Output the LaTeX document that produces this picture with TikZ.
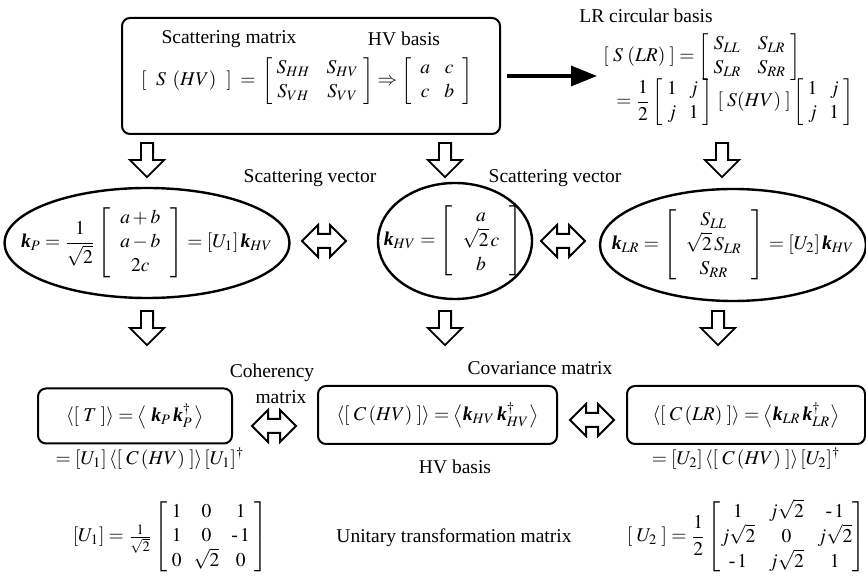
\documentclass[tikz,border=0pt]{standalone}
\usepackage{amsmath}
\usepackage{mathptmx}
\usepackage{fontspec}
\setmainfont{Liberation Serif}
\usetikzlibrary{shapes.geometric,shapes.arrows,arrows.meta}

% bold italic scattering vector symbol
\newcommand{\kv}{\mbox{\bfseries\itshape k}}
% bracketed matrix with some room inside the brackets
\newcommand{\bmx}[1]{\left[\;\begin{matrix}#1\end{matrix}\;\right]}
% wider variant used for the column vectors
\newcommand{\cvec}[1]{\left[\enspace\begin{matrix}#1\end{matrix}\enspace\right]}

\tikzset{
  rbox/.style={draw, line width=1pt, rounded corners=4pt, inner sep=0pt},
  oval/.style={draw, ellipse, line width=1.2pt, inner sep=0pt},
  dnarr/.style={single arrow, draw, line width=0.9pt, rotate=-90,
    minimum height=17pt, single arrow head extend=5.5pt, inner sep=2.6pt},
  lrarr/.style={double arrow, draw, line width=1pt, minimum height=22pt,
    double arrow head extend=4.5pt, inner sep=3pt},
  blk/.style={line width=1.6pt, -{Triangle[length=13pt,width=10pt]}},
  txt/.style={inner sep=0pt},
}

\begin{document}
\begin{tikzpicture}[x=0.5pt, y=-0.5pt, font=\fontsize{9.75}{11.5}\selectfont]
\useasboundingbox (0,0) rectangle (866,581);
\arraycolsep=3pt
\renewcommand{\arraystretch}{1.05}

% ---- scattering matrix, HV basis ----
\node[rbox, minimum width=189pt, minimum height=58pt] (top) at (311,76) {};
\node[txt] (tlbl) at (229,39) {Scattering matrix};
\node[txt] (tbas) at (404,39) {HV basis};
\node[txt] (teq) at (307,81)
  {$[\enspace S\;\,(HV)\enspace] \;=\, \bmx{S_{HH} & \;S_{HV}\\ S_{VH} & \;S_{VV}}
    \Rightarrow \left[\;\;\begin{matrix} a & \,c\\ c & \,b\end{matrix}\;\;\right]$};

% ---- LR circular basis ----
\node[txt] (lrt) at (646,16) {LR circular basis};
\node[txt] (lr1) at (702,57)
  {$[\;S\;(LR)\;] = \bmx{S_{LL} & \;S_{LR}\\ S_{LR} & \;S_{RR}}$};
\node[txt] (lr2) at (735,102)
  {$= \dfrac{1}{2}\bmx{1 & j\\ j & 1}\,[\;S(HV)\;]\bmx{1 & j\\ j & 1}$};
\coordinate (lrin) at (597,76);
\draw[blk] ([xshift=3pt]top.east) -- (lrin);

% ---- first row of block arrows ----
\node[dnarr] (d1) at (147,157) {};
\node[dnarr] (d2) at (445,157) {};
\node[dnarr] (d3) at (722,157) {};

\node[txt] (sv1) at (310,178) {Scattering vector};
\node[txt] (sv2) at (555,178) {Scattering vector};

% ---- scattering vectors ----
\node[oval, minimum width=142.5pt, minimum height=55pt] (ep) at (147,243) {};
\node[txt] at (ep.center)
  {$\kv_{P} = \dfrac{1}{\sqrt{2}}\cvec{a+b\\ a-b\\ 2c} = [U_1]\,\kv_{HV}$};
\node[oval, minimum width=77pt, minimum height=58pt] (eh) at (455,241) {};
\node[txt] at ([xshift=-1pt]eh.center)
  {$\kv_{HV} = \cvec{a\\ \sqrt{2}\,c\\ b}$};
\node[oval, minimum width=133pt, minimum height=56pt] (el) at (733,245) {};
\node[txt] at (el.center)
  {$\kv_{LR} = \cvec{S_{LL}\\ \sqrt{2}\,S_{LR}\\ S_{RR}} = [U_2]\,\kv_{HV}$};

\node[lrarr] (h1) at (324,241) {};
\node[lrarr] (h2) at (563,241) {};

% ---- second row of block arrows ----
\node[dnarr] (e1) at (147,325) {};
\node[dnarr] (e2) at (445,325) {};
\node[dnarr] (e3) at (718,325) {};

\node[txt] (coh1) at (272,373) {Coherency};
\node[txt] (coh2) at (281,397) {matrix};
\node[txt] (cov) at (540,368) {Covariance matrix};

% ---- coherency and covariance matrices ----
\node[rbox, minimum width=97pt, minimum height=27.5pt] (bt) at (135,416) {};
\node[txt] at (bt.center) {$\langle[\;T\;]\rangle = \big\langle\;\kv_{P}\,\kv_{P}^{\dagger}\,\big\rangle$};
\node[rbox, minimum width=119.5pt, minimum height=29pt] (bc) at (437.5,415) {};
\node[txt] at (bc.center) {$\langle[\;C\,(HV)\;]\rangle = \big\langle\kv_{HV}\,\kv_{HV}^{\dagger}\big\rangle$};
\node[rbox, minimum width=119pt, minimum height=29pt] (bl) at (746,415) {};
\node[txt] at (bl.center) {$\langle[\;C\,(LR)\;]\rangle = \big\langle\kv_{LR}\,\kv_{LR}^{\dagger}\big\rangle$};

\node[lrarr] (h3) at (274,426) {};
\node[lrarr] (h4) at (592,420) {};

\node[txt] (ut) at (150,459) {$=[U_1]\,\langle[\;C\,(HV)\;]\rangle\,[U_1]^{\dagger}$};
\node[txt] (hvb) at (455,467) {HV basis};
\node[txt] (ul) at (746,459) {$=[U_2]\,\langle[\;C\,(HV)\;]\rangle\,[U_2]^{\dagger}$};

% ---- unitary transformation matrices ----
\node[txt] (u1) at (170,537)
  {$[U_1] = \frac{1}{\sqrt{2}}\bmx{1 & 0 & 1\\ 1 & 0 & \text{-}\,1\\ 0 & \sqrt{2} & 0}$};
\node[txt] (utm) at (454,538) {Unitary transformation matrix};
\node[txt] (u2) at (746,537)
  {$\arraycolsep=3.4pt [\;U_2\;] = \dfrac{1}{2}\left[\begin{matrix} 1 & j\sqrt{2} & \text{-}\,1\\ j\sqrt{2} & 0 & j\sqrt{2}\\ \text{-}\,1 & j\sqrt{2} & 1\end{matrix}\right]$};
\end{tikzpicture}
\end{document}
